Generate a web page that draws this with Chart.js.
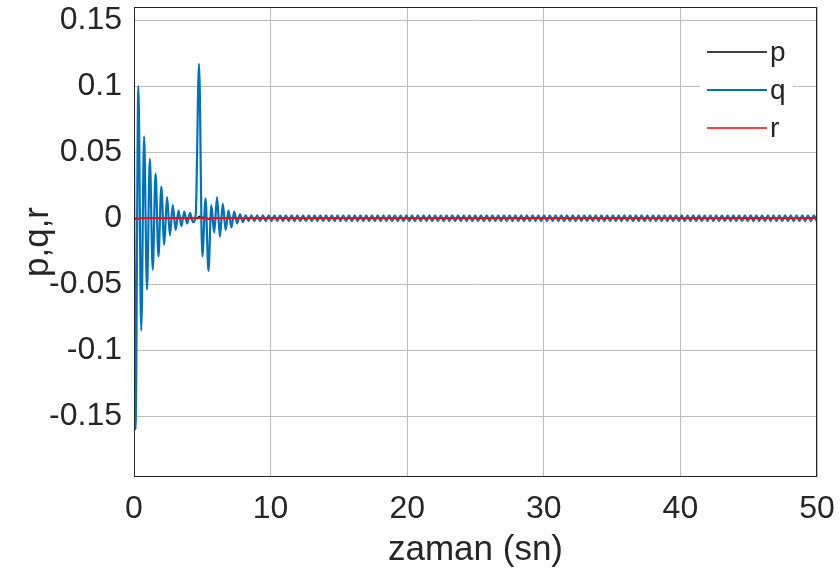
<!DOCTYPE html>
<html>
<head>
<meta charset="utf-8">
<script src="https://cdn.jsdelivr.net/npm/chart.js@4.4.0/dist/chart.umd.min.js"></script>
<style>
  html, body { margin: 0; background: #fff; }
</style>
</head>
<body>
<canvas id="chart" width="840" height="583"></canvas>
<script>
// tick labels
const xTicks = [0, 10, 20, 30, 40, 50];
const yTicks = [-0.15, -0.1, -0.05, 0, 0.05, 0.1, 0.15];

// q: transient part (peaks)
const qTimeEarly = [0, 0.11, 0.32, 0.53, 0.74, 0.95, 1.16, 1.37, 1.58, 1.79,
  2.00, 2.21, 2.42, 2.63, 2.84, 3.05, 3.26, 3.47, 3.68, 3.89,
  4.10, 4.31, 4.52, 4.76, 5.00, 5.24, 5.45, 5.66, 5.87, 6.08,
  6.29, 6.50, 6.71, 6.92, 7.13, 7.34, 7.55, 7.76, 7.97];
const qValEarly = [0.053, -0.16, 0.1, -0.085, 0.062, -0.054, 0.045, -0.039, 0.034, -0.029,
  0.024, -0.02, 0.016, -0.013, 0.01, -0.009, 0.006, -0.006, 0.005, -0.004,
  0.004, -0.003, 0.003, 0.117, -0.029, 0.015, -0.04, 0.01, -0.011, 0.016,
  -0.014, 0.011, -0.009, 0.006, -0.007, 0.005, -0.004, 0.003, -0.003];

// q: small steady ripple after ~8 s
const qTimeTail = [
  8.18, 8.39, 8.60, 8.81, 9.02, 9.23, 9.44, 9.65, 9.86, 10.07,
  10.28, 10.49, 10.70, 10.91, 11.12, 11.33, 11.54, 11.75, 11.96, 12.17,
  12.38, 12.59, 12.80, 13.01, 13.22, 13.43, 13.64, 13.85, 14.06, 14.27,
  14.48, 14.69, 14.90, 15.11, 15.32, 15.53, 15.74, 15.95, 16.16, 16.37,
  16.58, 16.79, 17.00, 17.21, 17.42, 17.63, 17.84, 18.05, 18.26, 18.47,
  18.68, 18.89, 19.10, 19.31, 19.52, 19.73, 19.94, 20.15, 20.36, 20.57,
  20.78, 20.99, 21.20, 21.41, 21.62, 21.83, 22.04, 22.25, 22.46, 22.67,
  22.88, 23.09, 23.30, 23.51, 23.72, 23.93, 24.14, 24.35, 24.56, 24.77,
  24.98, 25.19, 25.40, 25.61, 25.82, 26.03, 26.24, 26.45, 26.66, 26.87,
  27.08, 27.29, 27.50, 27.71, 27.92, 28.13, 28.34, 28.55, 28.76, 28.97,
  29.18, 29.39, 29.60, 29.81, 30.02, 30.23, 30.44, 30.65, 30.86, 31.07,
  31.28, 31.49, 31.70, 31.91, 32.12, 32.33, 32.54, 32.75, 32.96, 33.17,
  33.38, 33.59, 33.80, 34.01, 34.22, 34.43, 34.64, 34.85, 35.06, 35.27,
  35.48, 35.69, 35.90, 36.11, 36.32, 36.53, 36.74, 36.95, 37.16, 37.37,
  37.58, 37.79, 38.00, 38.21, 38.42, 38.63, 38.84, 39.05, 39.26, 39.47,
  39.68, 39.89, 40.10, 40.31, 40.52, 40.73, 40.94, 41.15, 41.36, 41.57,
  41.78, 41.99, 42.20, 42.41, 42.62, 42.83, 43.04, 43.25, 43.46, 43.67,
  43.88, 44.09, 44.30, 44.51, 44.72, 44.93, 45.14, 45.35, 45.56, 45.77,
  45.98, 46.19, 46.40, 46.61, 46.82, 47.03, 47.24, 47.45, 47.66, 47.87,
  48.08, 48.29, 48.50, 48.71, 48.92, 49.13, 49.34, 49.55, 49.76, 49.97];
const qValTail = [
  0.0022, -0.0022, 0.0022, -0.0022, 0.0022, -0.0022, 0.0022, -0.0022, 0.0022, -0.0022,
  0.0022, -0.0022, 0.0022, -0.0022, 0.0022, -0.0022, 0.0022, -0.0022, 0.0022, -0.0022,
  0.0022, -0.0022, 0.0022, -0.0022, 0.0022, -0.0022, 0.0022, -0.0022, 0.0022, -0.0022,
  0.0022, -0.0022, 0.0022, -0.0022, 0.0022, -0.0022, 0.0022, -0.0022, 0.0022, -0.0022,
  0.0022, -0.0022, 0.0022, -0.0022, 0.0022, -0.0022, 0.0022, -0.0022, 0.0022, -0.0022,
  0.0022, -0.0022, 0.0022, -0.0022, 0.0022, -0.0022, 0.0022, -0.0022, 0.0022, -0.0022,
  0.0022, -0.0022, 0.0022, -0.0022, 0.0022, -0.0022, 0.0022, -0.0022, 0.0022, -0.0022,
  0.0022, -0.0022, 0.0022, -0.0022, 0.0022, -0.0022, 0.0022, -0.0022, 0.0022, -0.0022,
  0.0022, -0.0022, 0.0022, -0.0022, 0.0022, -0.0022, 0.0022, -0.0022, 0.0022, -0.0022,
  0.0022, -0.0022, 0.0022, -0.0022, 0.0022, -0.0022, 0.0022, -0.0022, 0.0022, -0.0022,
  0.0022, -0.0022, 0.0022, -0.0022, 0.0022, -0.0022, 0.0022, -0.0022, 0.0022, -0.0022,
  0.0022, -0.0022, 0.0022, -0.0022, 0.0022, -0.0022, 0.0022, -0.0022, 0.0022, -0.0022,
  0.0022, -0.0022, 0.0022, -0.0022, 0.0022, -0.0022, 0.0022, -0.0022, 0.0022, -0.0022,
  0.0022, -0.0022, 0.0022, -0.0022, 0.0022, -0.0022, 0.0022, -0.0022, 0.0022, -0.0022,
  0.0022, -0.0022, 0.0022, -0.0022, 0.0022, -0.0022, 0.0022, -0.0022, 0.0022, -0.0022,
  0.0022, -0.0022, 0.0022, -0.0022, 0.0022, -0.0022, 0.0022, -0.0022, 0.0022, -0.0022,
  0.0022, -0.0022, 0.0022, -0.0022, 0.0022, -0.0022, 0.0022, -0.0022, 0.0022, -0.0022,
  0.0022, -0.0022, 0.0022, -0.0022, 0.0022, -0.0022, 0.0022, -0.0022, 0.0022, -0.0022,
  0.0022, -0.0022, 0.0022, -0.0022, 0.0022, -0.0022, 0.0022, -0.0022, 0.0022, -0.0022,
  0.0022, -0.0022, 0.0022, -0.0022, 0.0022, -0.0022, 0.0022, -0.0022, 0.0022, -0.0022];

// p: stays at zero apart from tiny blips
const pTime = [0, 0.2, 0.5, 4.6, 4.8, 5.5, 5.8, 50];
const pVal = [0, -0.001, 0, 0, 0.0015, -0.001, 0, 0];

// r: flat at zero
const rTime = [0, 50];
const rVal = [0, 0];

function toPoints(ts, vs) { return ts.map((t, i) => ({x: t, y: vs[i]})); }

const FONT = "'Liberation Sans', Arial, Helvetica, sans-serif";
const INK = "#262626";

// black frame round the plot area
const framePlugin = {
  id: "frame",
  afterDatasetsDraw(chart) {
    const {ctx, chartArea: a} = chart;
    ctx.save();
    ctx.strokeStyle = INK;
    ctx.lineWidth = 1;
    ctx.strokeRect(a.left + 0.5, a.top + 0.5, a.right - a.left - 1, a.bottom - a.top - 1);
    ctx.restore();
  }
};

// matlab-like legend inside the top right corner
const legendPlugin = {
  id: "insideLegend",
  afterDatasetsDraw(chart) {
    const {ctx, chartArea: a} = chart;
    const x0 = a.right - 117, y0 = a.top + 27;
    ctx.save();
    ctx.fillStyle = "#fff";
    ctx.fillRect(x0, y0, 93, 115);
    ctx.font = "28px " + FONT;
    ctx.textBaseline = "middle";
    chart.data.datasets.forEach((ds, i) => {
      const y = y0 + 18 + i * 38;
      ctx.strokeStyle = ds.borderColor;
      ctx.lineWidth = ds.legendWidth;
      ctx.beginPath();
      ctx.moveTo(x0 + 7, y);
      ctx.lineTo(x0 + 67, y);
      ctx.stroke();
      ctx.fillStyle = INK;
      ctx.fillText(ds.label, x0 + 70, y + 1);
    });
    ctx.restore();
  }
};

new Chart(document.getElementById("chart"), {
  type: "line",
  data: {
    datasets: [
      { label: "p", data: toPoints(pTime, pVal), borderColor: "#000000", borderWidth: 1.5, legendWidth: 1.5, order: 2 },
      { label: "q", data: toPoints(qTimeEarly.concat(qTimeTail), qValEarly.concat(qValTail)),
        borderColor: "#0072BD", borderWidth: 2.2, legendWidth: 2, order: 1, cubicInterpolationMode: "monotone" },
      { label: "r", data: toPoints(rTime, rVal), borderColor: "#FF0000", borderWidth: 1.5, legendWidth: 1.5, order: 0 }
    ]
  },
  options: {
    responsive: false,
    animation: false,
    parsing: false,
    elements: { point: { radius: 0 }, line: { fill: false } },
    layout: { padding: { top: 7, right: 23, left: 0, bottom: 0 } },
    plugins: { legend: { display: false }, tooltip: { enabled: false } },
    scales: {
      x: {
        type: "linear", min: 0, max: 50,
        afterBuildTicks: s => { s.ticks = xTicks.map(v => ({value: v})); },
        afterFit: s => { s.height = 106; s.paddingLeft = 0; s.paddingRight = 0; },
        grid: { color: "#bdbdbd", drawTicks: false },
        border: { display: false },
        ticks: { color: INK, font: { family: FONT, size: 32 }, padding: 13, maxRotation: 0,
          callback: v => String(v) },
        title: { display: true, text: "zaman (sn)", color: INK, font: { family: FONT, size: 35 },
          padding: { top: 0, bottom: 12 } }
      },
      y: {
        type: "linear", min: -0.196, max: 0.16,
        afterBuildTicks: s => { s.ticks = yTicks.map(v => ({value: v})); },
        afterFit: s => { s.width = 134; s.paddingTop = 0; s.paddingBottom = 0; },
        grid: { color: "#bdbdbd", drawTicks: false },
        border: { display: false },
        ticks: { color: INK, font: { family: FONT, size: 32 }, padding: 12,
          callback: v => String(v) },
        title: { display: true, text: "p,q,r", color: INK, font: { family: FONT, size: 35 },
          padding: { top: 17, bottom: 0 } }
      }
    }
  },
  plugins: [framePlugin, legendPlugin]
});
</script>
</body>
</html>
